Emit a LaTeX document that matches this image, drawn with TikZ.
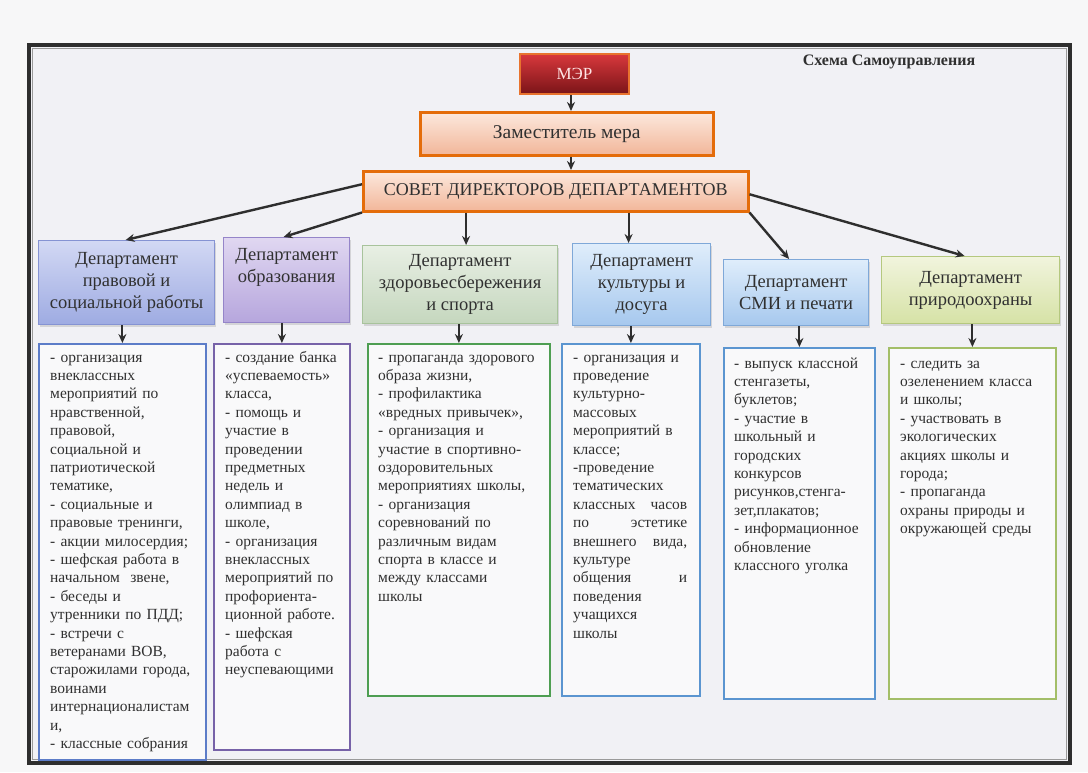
\documentclass[tikz,border=0pt]{standalone}
\usepackage{fontspec}
\setmainfont{Liberation Serif}
\usepackage{xcolor}
\usetikzlibrary{arrows.meta, positioning, calc, shadows}

\definecolor{pagebg}{HTML}{F7F7F8}
\definecolor{sheetbg}{HTML}{F1F1F5}
\definecolor{inktext}{HTML}{303030}
\definecolor{framedark}{HTML}{2E2E2E}
\definecolor{framegray}{HTML}{9A9A9A}
\definecolor{mayortop}{HTML}{D8383C}
\definecolor{mayorbot}{HTML}{7A1418}
\definecolor{mayorline}{HTML}{E8732E}
\definecolor{peachtop}{HTML}{FCE8DD}
\definecolor{peachbot}{HTML}{F2B699}
\definecolor{peachline}{HTML}{E46C0A}
\definecolor{lawtop}{HTML}{D2D8F4}
\definecolor{lawbot}{HTML}{9EABE2}
\definecolor{lawline}{HTML}{8593D3}
\definecolor{edutop}{HTML}{E0D7F1}
\definecolor{edubot}{HTML}{B6A6DD}
\definecolor{eduline}{HTML}{9585C9}
\definecolor{sporttop}{HTML}{E8EFE4}
\definecolor{sportbot}{HTML}{C5D7BE}
\definecolor{sportline}{HTML}{A8C39C}
\definecolor{skytop}{HTML}{DFEDFB}
\definecolor{skybot}{HTML}{A6C8EE}
\definecolor{skyline}{HTML}{7FA8D8}
\definecolor{ecotop}{HTML}{F1F4DD}
\definecolor{ecobot}{HTML}{D6E2A6}
\definecolor{ecoline}{HTML}{B5C87F}
\definecolor{lawframe}{HTML}{5C7CC8}
\definecolor{eduframe}{HTML}{7762A8}
\definecolor{sportframe}{HTML}{4E9E52}
\definecolor{skyframe}{HTML}{5B95D0}
\definecolor{ecoframe}{HTML}{A3BE68}

\tikzset{
    chief/.style={rectangle, draw=mayorline, line width=2pt, top color=mayortop, bottom color=mayorbot, text=red!10!white, font=\fontsize{17}{20}\selectfont, inner sep=0pt, anchor=north west},
    board/.style={rectangle, draw=peachline, line width=2.5pt, top color=peachtop, bottom color=peachbot, text=inktext, inner sep=0pt, anchor=north west, drop shadow={shadow xshift=1.5pt, shadow yshift=-2pt, opacity=0.3}},
    dept/.style={rectangle, draw, line width=1.2pt, align=center, text=inktext, font=\fontsize{18.5}{22}\selectfont, inner sep=0pt, anchor=north west, drop shadow={shadow xshift=1.5pt, shadow yshift=-2pt, opacity=0.25}},
    listbox/.style={rectangle, draw, line width=1.8pt, fill=white!55!sheetbg, inner sep=0pt, anchor=north west},
    listtext/.style={anchor=base west, align=left, inner sep=0pt, text=inktext, font=\fontsize{15.5}{18.4}\selectfont},
    arrow/.style={-{Stealth[length=9pt, width=8pt]}, line width=2pt, draw=framedark},
}

\begin{document}
\begin{tikzpicture}[x=1pt, y=-1pt]
    \useasboundingbox (0,0) rectangle (1088,772);
    % Sheet and frame
    \fill[pagebg] (0,0) rectangle (1088,772);
    \fill[sheetbg] (27,43) rectangle (1072,765);
    \draw[framedark, line width=3.5pt] (29,45) rectangle (1070,763);
    \draw[framegray, line width=1.2pt] (32.5,48.5) rectangle (1066.5,759.5);

    \node[font=\bfseries\fontsize{16}{18}\selectfont, text=inktext] (title) at (889,62) {Схема Самоуправления};

    % Top of the scheme
    \node[chief, minimum width=109pt, minimum height=40pt] (mayor) at (519,53) {МЭР};
    \node[board, minimum width=293pt, minimum height=43pt, font=\fontsize{19.5}{22}\selectfont] (deputy) at (419,111) {Заместитель мера};
    \node[board, minimum width=385pt, minimum height=40pt, font=\fontsize{18}{22}\selectfont] (council) at (362,170) {СОВЕТ ДИРЕКТОРОВ ДЕПАРТАМЕНТОВ};

    \draw[arrow] (mayor.south -| 571,0) -- (deputy.north -| 571,0);
    \draw[arrow] (deputy.south -| 571,0) -- (council.north -| 571,0);

    % Departments
    \node[dept, draw=lawline, top color=lawtop, bottom color=lawbot, minimum width=176pt, minimum height=84pt] (dept1) at (38,240) {Департамент\\правовой и\\социальной работы};
    \node[dept, draw=eduline, top color=edutop, bottom color=edubot, minimum width=126pt, minimum height=85pt] (dept2) at (223,237) {Департамент\\образования\\\strut};
    \node[dept, draw=sportline, top color=sporttop, bottom color=sportbot, minimum width=195pt, minimum height=78pt] (dept3) at (362,245) {Департамент\\здоровьесбережения\\и спорта};
    \node[dept, draw=skyline, top color=skytop, bottom color=skybot, minimum width=138pt, minimum height=82pt] (dept4) at (572,243) {Департамент\\культуры и\\досуга};
    \node[dept, draw=skyline, top color=skytop, bottom color=skybot, minimum width=145pt, minimum height=66pt] (dept5) at (723,259) {Департамент\\СМИ и печати};
    \node[dept, draw=ecoline, top color=ecotop, bottom color=ecobot, minimum width=178pt, minimum height=67pt] (dept6) at (881,256) {Департамент\\природоохраны};

    \draw[arrow, line width=2.4pt] ([yshift=7pt]council.west) -- ([xshift=-1pt]dept1.north);
    \draw[arrow, line width=2.4pt] (council.south west) -- ([xshift=-3pt]dept2.north);
    \draw[arrow] ([xshift=6pt]dept3.north |- council.south) -- ([xshift=6pt]dept3.north);
    \draw[arrow] ([xshift=-13pt]dept4.north |- council.south) -- ([xshift=-13pt]dept4.north);
    \draw[arrow, line width=2.4pt] (council.south east) -- ([xshift=-7pt]dept5.north);
    \draw[arrow, line width=2.4pt] ([yshift=-3pt]council.east) -- ([xshift=-6pt]dept6.north);

    % Lists of tasks
    \node[listbox, draw=lawframe, minimum width=167pt, minimum height=416pt] (box1) at (38,343) {};
    \node[listbox, draw=eduframe, minimum width=136pt, minimum height=406pt] (box2) at (213,343) {};
    \node[listbox, draw=sportframe, minimum width=182pt, minimum height=352pt] (box3) at (367,343) {};
    \node[listbox, draw=skyframe, minimum width=138pt, minimum height=352pt] (box4) at (561,343) {};
    \node[listbox, draw=skyframe, minimum width=151pt, minimum height=351pt] (box5) at (723,347) {};
    \node[listbox, draw=ecoframe, minimum width=167pt, minimum height=351pt] (box6) at (888,347) {};

    \foreach \n in {1,...,6}
        \draw[arrow] (box\n.north |- dept\n.south) -- (box\n.north);

    \node[listtext, text width=160pt] (txt1) at ($(box1.north west)+(12,19)$) {- организация\\
        внеклассных\\
        мероприятий по\\
        нравственной,\\
        правовой,\\
        социальной и\\
        патриотической\\
        тематике,\\
        - социальные и\\
        правовые тренинги,\\
        - акции милосердия;\\
        - шефская работа в\\
        начальном\ \ звене,\\
        - беседы и\\
        утренники по ПДД;\\
        - встречи с\\
        ветеранами ВОВ,\\
        старожилами города,\\
        воинами\\
        интернационалистам\\
        и,\\
        - классные собрания};
    \node[listtext, text width=130pt] (txt2) at ($(box2.north west)+(12,19)$) {- создание банка\\
        «успеваемость»\\
        класса,\\
        - помощь и\\
        участие в\\
        проведении\\
        предметных\\
        недель и\\
        олимпиад в\\
        школе,\\
        - организация\\
        внеклассных\\
        мероприятий по\\
        профориента-\\
        ционной работе.\\
        - шефская\\
        работа с\\
        неуспевающими};
    \node[listtext, text width=175pt] (txt3) at ($(box3.north west)+(11,19)$) {- пропаганда здорового\\
        образа жизни,\\
        - профилактика\\
        «вредных привычек»,\\
        - организация и\\
        участие в спортивно-\\
        оздоровительных\\
        мероприятиях школы,\\
        - организация\\
        соревнований по\\
        различным видам\\
        спорта в классе и\\
        между классами\\
        школы};
    \node[listtext, text width=114pt] (txt4) at ($(box4.north west)+(12,19)$) {- организация и\\
        проведение\\
        культурно-\\
        массовых\\
        мероприятий в\\
        классе;\\
        -проведение\\
        тематических\\
        классных\hfill часов\\
        по\hfill эстетике\\
        внешнего\hfill вида,\\
        культуре\\
        общения\hfill и\\
        поведения\\
        учащихся\\
        школы};
    \node[listtext, text width=145pt] (txt5) at ($(box5.north west)+(11,21)$) {- выпуск классной\\
        стенгазеты,\\
        буклетов;\\
        - участие в\\
        школьный и\\
        городских\\
        конкурсов\\
        рисунков,стенга-\\
        зет,плакатов;\\
        - информационное\\
        обновление\\
        классного уголка};
    \node[listtext, text width=160pt] (txt6) at ($(box6.north west)+(12,21)$) {- следить за\\
        озеленением класса\\
        и школы;\\
        - участвовать в\\
        экологических\\
        акциях школы и\\
        города;\\
        - пропаганда\\
        охраны природы и\\
        окружающей среды};
\end{tikzpicture}
\end{document}
